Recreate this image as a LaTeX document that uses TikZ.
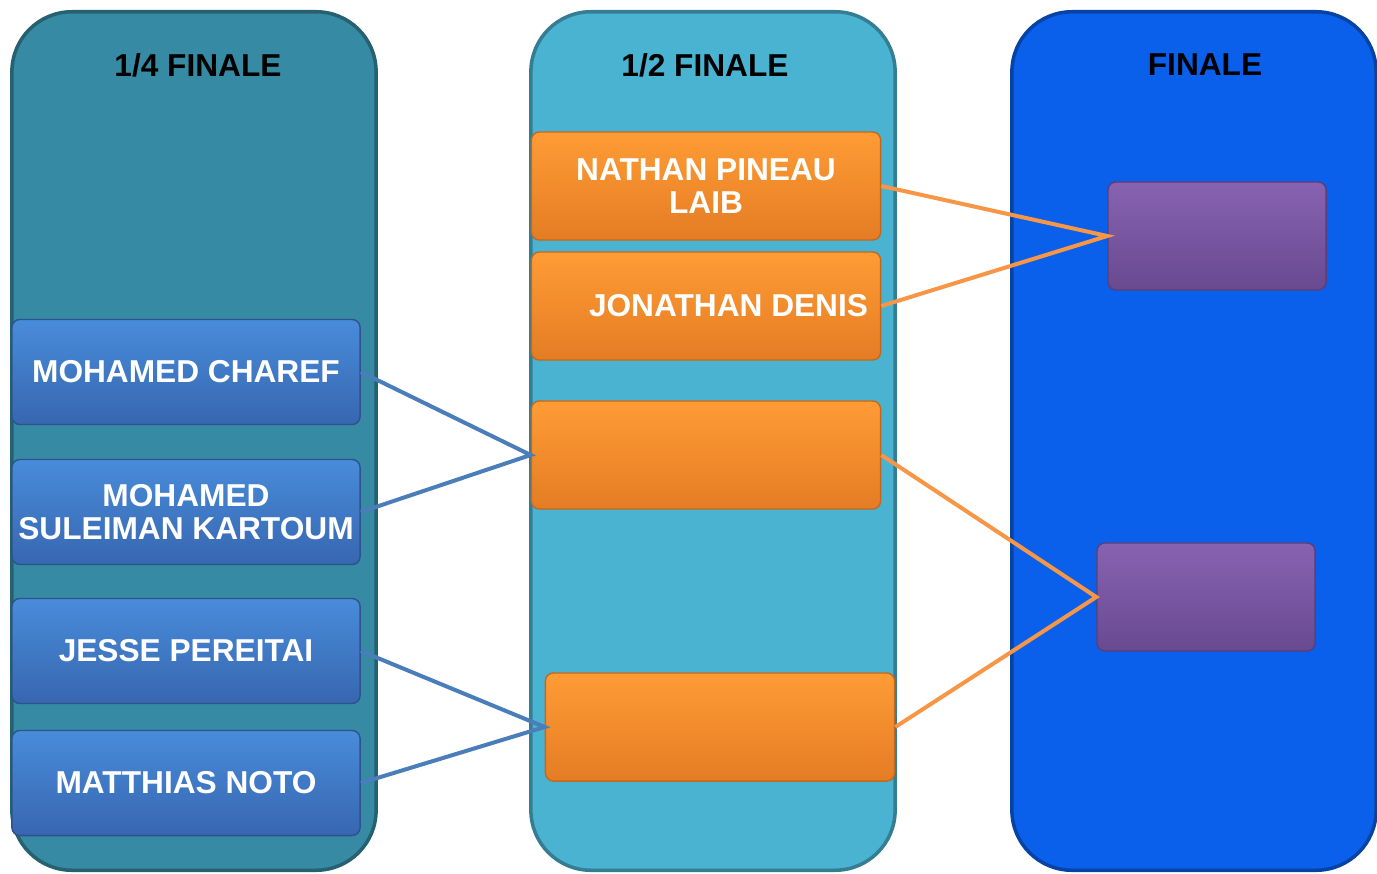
\documentclass[tikz,border=0pt]{standalone}
\usepackage{fontspec}
\setmainfont{Liberation Sans}
\definecolor{quartcol}{HTML}{368AA3}
\definecolor{demicol}{HTML}{4AB3D1}
\definecolor{finalcol}{HTML}{0A60EB}
\definecolor{bluetop}{HTML}{488CDA}
\definecolor{bluebot}{HTML}{3866B0}
\definecolor{orangetop}{HTML}{FF9C35}
\definecolor{orangebot}{HTML}{E47C24}
\definecolor{purpletop}{HTML}{8862B2}
\definecolor{purplebot}{HTML}{684A90}
\definecolor{bluelink}{HTML}{4A7EBB}
\definecolor{orangelink}{HTML}{F79646}
\begin{document}
\begin{tikzpicture}
            [x=0.01cm, y=-0.01cm,
            column/.style={rounded corners=0.6cm, minimum width=3.64cm, minimum height=8.58cm, draw=#1!70!black, line width=1pt, fill=#1},
            title/.style={font=\bfseries\fontsize{9}{10}\selectfont, text=black},
            player/.style={rounded corners=0.08cm, inner xsep=0.02cm, minimum width=3.48cm, minimum height=1.05cm, draw=bluebot!80!black, top color=bluetop, bottom color=bluebot, text=white, align=center, font=\bfseries\fontsize{9}{9.6}\selectfont},
            semi/.style={player, minimum width=3.49cm, minimum height=1.08cm, draw=orangebot!85!black, top color=orangetop, bottom color=orangebot},
            final/.style={player, minimum width=2.18cm, minimum height=1.08cm, draw=purplebot!85!black, top color=purpletop, bottom color=purplebot},
            bluewire/.style={bluelink, line width=0.04cm},
            orangewire/.style={orangelink, line width=0.04cm}]

            \useasboundingbox (0,0) rectangle (1377,873);

            % Columns
            \node[column=quartcol] (quart) at (194,441) {};
            \node[column=demicol] (demi) at (713,441) {};
            \node[column=finalcol] (fin) at (1194,441) {};

            % Titles
            \node[title] (tq) at (198,65) {1/4 FINALE};
            \node[title] (td) at (705,65) {1/2 FINALE};
            \node[title] (tf) at (1205,65) {FINALE};

            % 1/4 finale
            \node[player] (q1) at (186,372) {MOHAMED CHAREF};
            \node[player] (q2) at (186,512) {MOHAMED\\SULEIMAN KARTOUM};
            \node[player] (q3) at (186,651) {JESSE PEREITAI};
            \node[player] (q4) at (186,783) {MATTHIAS NOTO};

            % 1/2 finale
            \node[semi] (s1) at (706,186) {NATHAN PINEAU\\LAIB};
            \node[semi] (s2) at (706,306) {\hspace*{0.45cm}JONATHAN DENIS};
            \node[semi] (s3) at (706,455) {};
            \node[semi] (s4) at (720,727) {};

            % Finale
            \node[final] (f1) at (1217,236) {};
            \node[final] (f2) at (1206,597) {};

            % Links
            \draw[bluewire] (q1.east) -- (s3.west) -- (q2.east);
            \draw[bluewire] (q3.east) -- (s4.west) -- (q4.east);
            \draw[orangewire] (s1.east) -- (f1.west) -- (s2.east);
            \draw[orangewire] (s3.east) -- (f2.west) -- (s4.east);

        \end{tikzpicture}
\end{document}
